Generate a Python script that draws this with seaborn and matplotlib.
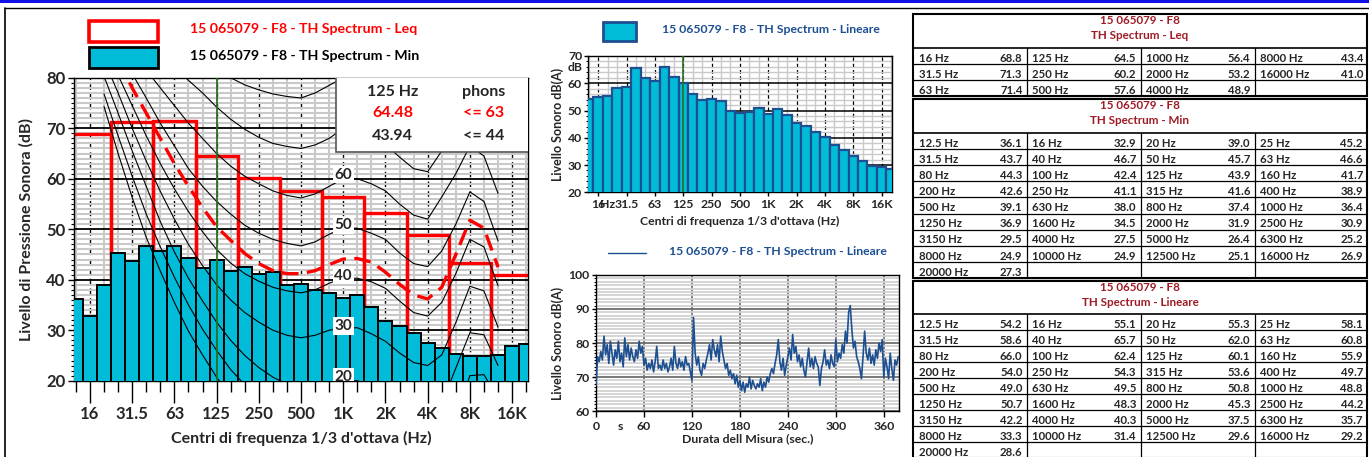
import pandas as pd
import matplotlib
matplotlib.use("Agg")
import matplotlib.pyplot as plt
import seaborn as sns
from matplotlib.patches import Rectangle

# ----------------------------
# 0. stile
# ----------------------------
sns.set_theme(style="white")
plt.rcParams['font.family'] = ['Lato', 'DejaVu Sans']
plt.rcParams['font.weight'] = 'bold'
plt.rcParams['axes.labelweight'] = 'bold'

CYAN = "#00BCD9"
NAVY = "#1D4F91"
DARKRED = "#9E1B25"
GREEN = "#2B6E1F"

# ----------------------------
# 1. dati
# ----------------------------
codice = "15 065079 - F8"
serie_leq = "15 065079 - F8 - TH Spectrum - Leq"
serie_min = "15 065079 - F8 - TH Spectrum - Min"
serie_lin = "15 065079 - F8 - TH Spectrum - Lineare"

# bande 1/3 d'ottava (12.5 Hz -> 20 kHz)
terzi_hz = ["12.5", "16", "20", "25", "31.5", "40", "50", "63", "80", "100",
            "125", "160", "200", "250", "315", "400", "500", "630", "800", "1000",
            "1250", "1600", "2000", "2500", "3150", "4000", "5000", "6300", "8000",
            "10000", "12500", "16000", "20000"]
spl_min = [36.1, 32.9, 39.0, 45.2, 43.7, 46.7, 45.7, 46.6, 44.3, 42.4,
           43.9, 41.7, 42.6, 41.1, 41.6, 38.9, 39.1, 38.0, 37.4, 36.4,
           36.9, 34.5, 31.9, 30.9, 29.5, 27.5, 26.4, 25.2, 24.9, 24.9,
           25.1, 26.9, 27.3]
spl_lin = [54.2, 55.1, 55.3, 58.1, 58.6, 65.7, 62.0, 60.8, 66.0, 62.4,
           60.1, 55.9, 54.0, 54.3, 53.6, 49.7, 49.0, 49.5, 50.8, 48.8,
           50.7, 48.3, 45.3, 44.2, 42.2, 40.3, 37.5, 35.7, 33.3, 31.4,
           29.6, 29.2, 28.6]

# bande d'ottava
ottave_hz = ["16", "31.5", "63", "125", "250", "500", "1000", "2000", "4000", "8000", "16000"]
spl_leq = [68.8, 71.3, 71.4, 64.5, 60.2, 57.6, 56.4, 53.2, 48.9, 43.4, 41.0]
ottave_tick = ["16", "31.5", "63", "125", "250", "500", "1K", "2K", "4K", "8K", "16K"]

# riquadro 125 Hz
sel_freq = "125 Hz"
sel_leq = 64.48
sel_min = 43.94
phon_leq = 63
phon_min = 44

# curve isofoniche, da 20 Hz (banda 2) a 12.5 kHz (banda 30)
iso_banda = list(range(2, 31))
iso_phon = [0, 10, 20, 30, 40, 50, 60, 70, 80]
iso_0 = [74.3, 65.0, 56.3, 48.4, 41.7, 35.5, 29.8, 25.1, 20.7, 16.8,
         13.8, 11.2, 8.9, 7.2, 6.0, 5.0, 4.4, 4.2, 3.7, 2.6,
         1.0, -1.2, -3.6, -3.9, -1.1, 6.6, 15.3, 16.4, 11.6]
iso_10 = [76.8, 68.5, 60.5, 53.0, 46.5, 40.5, 35.0, 30.2, 26.0, 22.2,
          19.2, 16.8, 14.8, 13.2, 12.0, 11.0, 10.3, 10.0, 9.7, 8.8,
          7.2, 5.0, 2.6, 2.3, 5.0, 12.5, 21.0, 21.2, 16.5]
iso_20 = [80.3, 73.0, 65.5, 58.5, 51.5, 45.5, 40.3, 35.8, 31.6, 28.0,
          25.0, 22.6, 20.7, 19.3, 18.0, 18.3, 19.0, 20.0, 20.0, 19.0,
          17.5, 15.3, 13.0, 12.8, 15.5, 22.5, 29.5, 29.1, 23.0]
iso_30 = [83.5, 77.0, 70.0, 63.5, 57.5, 52.0, 47.0, 42.8, 39.0, 36.0,
          33.5, 31.6, 30.0, 29.0, 28.5, 29.0, 30.0, 30.4, 30.5, 29.3,
          27.8, 25.5, 23.6, 23.0, 25.1, 31.5, 38.7, 37.8, 30.6]
iso_40 = [86.5, 80.5, 74.5, 68.5, 63.0, 58.0, 53.5, 49.5, 46.0, 43.3,
          41.2, 39.7, 38.5, 37.8, 37.4, 38.0, 39.3, 40.3, 40.3, 39.6,
          38.3, 35.8, 33.5, 32.8, 35.5, 41.2, 48.0, 46.5, 38.8]
iso_50 = [90.0, 85.0, 80.8, 76.0, 71.0, 66.5, 62.0, 58.5, 55.5, 53.0,
          50.8, 49.2, 48.0, 47.2, 46.7, 47.5, 49.0, 50.3, 50.2, 49.2,
          48.0, 45.3, 43.2, 42.6, 45.7, 51.0, 57.4, 55.5, 47.7]
iso_60 = [93.0, 89.0, 85.0, 81.5, 78.0, 74.5, 71.0, 68.0, 65.0, 62.5,
          60.5, 59.0, 57.6, 56.7, 56.2, 57.0, 58.5, 60.0, 60.0, 59.0,
          57.6, 55.0, 52.8, 52.0, 56.4, 61.0, 66.5, 64.5, 57.1]
iso_70 = [97.0, 93.5, 90.0, 87.0, 84.5, 82.0, 79.5, 77.0, 74.2, 71.8,
          69.8, 68.2, 67.0, 66.4, 66.0, 66.7, 68.0, 70.0, 70.0, 68.7,
          66.8, 64.3, 62.0, 61.4, 65.5, 70.5, 76.0, 74.0, 66.5]
iso_80 = [101.0, 98.0, 95.5, 93.0, 90.5, 88.5, 86.0, 84.0, 82.0, 80.0,
          78.6, 77.6, 76.8, 76.3, 76.0, 77.0, 78.5, 80.0, 80.2, 78.8,
          77.0, 74.5, 72.0, 71.4, 75.0, 80.0, 85.5, 83.5, 76.0]

# curva tratteggiata rossa (bande 3..30)
curva_banda = list(range(3, 31))
curva_rossa = [83.5, 78.0, 73.0, 68.0, 63.0, 58.5, 54.3, 50.5, 47.8, 45.2,
               43.2, 41.8, 41.2, 41.2, 41.8, 43.0, 44.1, 44.2, 43.5, 41.5,
               39.1, 37.0, 36.2, 38.5, 45.0, 51.8, 50.2, 42.5]

# andamento nel tempo, un valore ogni 2 s
t_sec = list(range(0, 380, 2))
laeq_t = [67.5, 76.0, 74.5, 77.5, 75.0, 82.0, 76.5, 79.5, 74.0, 80.5,
          77.0, 73.5, 78.0, 75.5, 80.5, 74.5, 77.0, 73.0, 81.5, 76.0,
          79.5, 75.0, 78.5, 76.0, 74.5, 78.0, 75.5, 80.5, 77.0, 79.0,
          73.5, 75.5, 72.0, 74.0, 72.5, 75.0, 71.5, 74.5, 79.0, 72.5,
          73.5, 72.0, 75.0, 72.5, 74.0, 71.5, 73.0, 75.5, 72.0, 79.0,
          74.0, 72.5, 75.5, 73.0, 74.5, 72.0, 76.0, 73.5, 74.0, 71.5,
          69.0, 87.5, 77.0, 73.5, 76.0, 72.0, 70.5, 74.0, 72.5, 75.0,
          77.0, 79.5, 75.0, 81.0, 78.0, 76.0, 79.5, 74.5, 82.0, 77.5,
          75.0, 72.5, 74.0, 70.5, 72.0, 69.5, 71.0, 68.0, 70.5, 67.0,
          69.0, 66.0, 68.5, 65.5, 68.0, 67.0, 70.0, 66.5, 69.0, 67.5,
          66.5, 68.0, 67.0, 69.5, 66.0, 68.5, 67.0, 70.0, 68.5, 71.0,
          72.5, 71.0, 74.0, 76.5, 81.0, 74.5, 72.0, 75.5, 70.5, 73.5,
          76.0, 78.5, 75.0, 82.5, 77.0, 79.0, 74.5, 76.5, 73.0, 75.5,
          72.0, 70.0, 74.5, 78.5, 73.0, 75.5, 72.5, 76.0, 74.0, 73.0,
          67.5, 72.5, 74.5, 78.0, 73.5, 75.0, 72.5, 76.5, 74.0, 73.0,
          81.0, 74.5, 77.0, 75.5, 79.5, 77.0, 83.5, 80.0, 89.0, 91.0,
          84.0, 78.5, 80.5, 76.0, 74.5, 72.5, 69.5, 76.0, 83.5, 77.0,
          75.0, 78.5, 74.0, 76.5, 73.5, 78.0, 75.5, 80.0, 77.5, 81.0,
          70.0, 75.5, 73.0, 69.5, 77.0, 72.5, 69.0, 75.0, 73.5, 76.0]
tempo_tick = [0, 60, 120, 180, 240, 300, 360]

# ----------------------------
# 2. tabelle per seaborn
# ----------------------------
banda = list(range(len(terzi_hz)))
banda_ott = [1 + 3 * k for k in range(len(ottave_hz))]
df_min = pd.DataFrame({"banda": banda, "spl": spl_min})
df_lin = pd.DataFrame({"banda": banda, "spl": spl_lin})
df_leq = pd.DataFrame({"banda": banda_ott, "spl": spl_leq})
righe = []
for p, valori in zip(iso_phon, [iso_0, iso_10, iso_20, iso_30, iso_40, iso_50, iso_60, iso_70, iso_80]):
    for b, v in zip(iso_banda, valori):
        righe.append((p, b, v))
df_iso = pd.DataFrame(righe, columns=["phon", "banda", "spl"])
df_t = pd.DataFrame({"t": t_sec, "spl": laeq_t})

# ----------------------------
# 3. figura e assi (coordinate in pixel)
# ----------------------------
W, H = 1369, 457
fig = plt.figure(figsize=(W / 100, H / 100), dpi=100)


def box(x0, y0, x1, y1):
    return [x0 / W, 1 - y1 / H, (x1 - x0) / W, (y1 - y0) / H]


ax_bg = fig.add_axes([0, 0, 1, 1])
ax_bg.set_xlim(0, W)
ax_bg.set_ylim(H, 0)
ax_bg.axis('off')

ax1 = fig.add_axes(box(74, 77.8, 528, 380.7))
ax2 = fig.add_axes(box(588.3, 56, 891.7, 192.3))
ax3 = fig.add_axes(box(596, 275, 899, 411))

ax_tab = fig.add_axes([0, 0, 1, 1])
ax_tab.set_xlim(0, W)
ax_tab.set_ylim(H, 0)
ax_tab.axis('off')
ax_tab.patch.set_visible(False)

# cornice
ax_bg.add_patch(Rectangle((0, 0), W, 2.6, color="#1010E8", lw=0))
ax_bg.plot([5, W], [8, 8], color='black', lw=1)
ax_bg.plot([5, 5], [8, H], color='black', lw=1.2)

# ----------------------------
# 4. grafico spettro Leq / Min
# ----------------------------
sns.barplot(data=df_leq, x="banda", y="spl", native_scale=True, width=1, fill=False,
            color="red", linewidth=2.4, errorbar=None, ax=ax1, zorder=2)
sns.barplot(data=df_min, x="banda", y="spl", native_scale=True, width=1, color=CYAN,
            saturation=1, edgecolor="black", linewidth=1.4, errorbar=None, ax=ax1, zorder=3)
sns.lineplot(data=df_iso, x="banda", y="spl", units="phon", estimator=None, sort=False,
             color="black", lw=0.8, ax=ax1, zorder=4, legend=False)
sns.lineplot(x=curva_banda, y=curva_rossa, color="red", lw=2.4, linestyle=(0, (5, 2.5)),
             ax=ax1, zorder=5)
ax1.axvline(banda_ott[3] - 0, color=GREEN, lw=1.3, zorder=6)

ax1.set_xlim(-0.135, 32.13)
ax1.set_ylim(20, 80)
ax1.set_xticks(banda_ott)
ax1.set_xticklabels(ottave_tick)
ax1.set_xticks(banda, minor=True)
ax1.set_yticks(range(20, 81, 10))
ax1.set_yticks(range(20, 81, 1), minor=True)
ax1.tick_params(axis='x', which='major', length=16, width=1, pad=2, labelsize=12,
                bottom=True, color='black')
ax1.tick_params(axis='x', which='minor', length=8, width=1, bottom=True, color='black')
ax1.tick_params(axis='y', which='major', length=4, width=1, pad=2, labelsize=12,
                left=True, color='black')
ax1.tick_params(axis='y', which='minor', length=2.5, width=0.8, left=True, color='black')
ax1.set_axisbelow(True)
ax1.grid(True, which='minor', axis='both', color='#C9C9C9', lw=1.5)
ax1.grid(True, which='major', axis='y', color='black', lw=1.3)
ax1.grid(True, which='major', axis='x', color='black', lw=1.0, linestyle=(0, (4, 3)))
for s in ax1.spines.values():
    s.set_color('black')
    s.set_linewidth(1)
ax1.set_xlabel("Centri di frequenza 1/3 d'ottava (Hz)", fontsize=11.5, labelpad=7)
ax1.set_ylabel("Livello di Pressione Sonora (dB)", fontsize=11.5, labelpad=9)

# riquadro 125 Hz
ax1.add_patch(Rectangle((18.49, 65.3), 14.5, 20, facecolor='white', edgecolor='#555555',
                        lw=1.2, zorder=7))
ax1.text(22.5, 77.1, sel_freq, fontsize=11.5, ha='center', va='center', zorder=8)
ax1.text(29.0, 77.1, "phons", fontsize=11.5, ha='center', va='center', zorder=8)
ax1.text(22.5, 73.0, f"{sel_leq:.2f}", fontsize=11.5, color='red', ha='center', va='center', zorder=8)
ax1.text(29.0, 73.0, f"<= {phon_leq}", fontsize=11.5, color='red', ha='center', va='center', zorder=8)
ax1.text(22.5, 68.4, f"{sel_min:.2f}", fontsize=11.5, ha='center', va='center', zorder=8)
ax1.text(29.0, 68.4, f"<= {phon_min}", fontsize=11.5, ha='center', va='center', zorder=8)

# etichette delle isofoniche a 1 kHz
for p in iso_phon[2:7]:
    ax1.text(19, p + 0.8, str(p), fontsize=11, ha='center', va='center', zorder=8,
             bbox=dict(facecolor='white', edgecolor='none', pad=1.2), clip_on=True)

# legenda
ax_bg.add_patch(Rectangle((89, 20.5), 69, 21.5, facecolor='white', edgecolor='red', lw=2.6))
ax_bg.add_patch(Rectangle((89, 47), 69, 21, facecolor=CYAN, edgecolor='black', lw=2))
ax_bg.text(190, 29, serie_leq, color='red', fontsize=10.2, va='center', ha='left')
ax_bg.text(190, 56, serie_min, color='black', fontsize=10.2, va='center', ha='left')

# ----------------------------
# 5. grafico lineare (in alto al centro)
# ----------------------------
sns.barplot(data=df_lin, x="banda", y="spl", native_scale=True, width=1, color=CYAN,
            saturation=1, edgecolor=NAVY, linewidth=1.6, errorbar=None, ax=ax2, zorder=3)
ax2.axvline(10, color=GREEN, lw=1.2, zorder=5)
ax2.set_xlim(-0.05, 32.07)
ax2.set_ylim(20, 70)
ax2.set_xticks(banda_ott)
ax2.set_xticklabels(ottave_tick)
ax2.set_xticks(banda, minor=True)
ax2.set_yticks(range(20, 71, 10))
ax2.set_yticks(range(20, 71, 2), minor=True)
ax2.tick_params(axis='x', which='major', length=3, width=1, pad=2, labelsize=8.8,
                bottom=True, color='black')
ax2.tick_params(axis='x', which='minor', length=0)
ax2.tick_params(axis='y', which='major', length=3, width=1, pad=1.5, labelsize=8.8,
                left=True, color='black')
ax2.tick_params(axis='y', which='minor', length=1.5, width=0.7, left=True, color='black')
ax2.set_axisbelow(True)
ax2.grid(True, which='minor', axis='both', color='#C9C9C9', lw=1.0)
ax2.grid(True, which='major', axis='y', color='black', lw=1.1)
ax2.grid(True, which='major', axis='x', color='black', lw=0.9, linestyle=(0, (3, 2)))
for s in ax2.spines.values():
    s.set_color('black')
    s.set_linewidth(1)
ax2.set_xlabel("Centri di frequenza 1/3 d'ottava (Hz)", fontsize=8.8, labelpad=4)
ax2.set_ylabel("Livello Sonoro dB(A)", fontsize=9, labelpad=3)
ax2.annotate("Hz", xy=(2.0, 0), xycoords=('data', 'axes fraction'), xytext=(0, -5),
             textcoords='offset points', ha='center', va='top', fontsize=8.8)
ax2.annotate("dB", xy=(0, 1), xycoords='axes fraction', xytext=(-4, -8),
             textcoords='offset points', ha='right', va='center', fontsize=8.8)

ax_bg.add_patch(Rectangle((603, 22), 33, 19, facecolor=CYAN, edgecolor=NAVY, lw=2))
ax_bg.text(662, 29.5, serie_lin, color=NAVY, fontsize=8.8, va='center', ha='left')

# ----------------------------
# 6. andamento nel tempo
# ----------------------------
sns.lineplot(data=df_t, x="t", y="spl", color=NAVY, lw=1.2, ax=ax3, zorder=3)
ax3.set_xlim(0, 379)
ax3.set_ylim(60, 100)
ax3.set_xticks(tempo_tick)
ax3.set_yticks(range(60, 101, 10))
ax3.set_yticks(range(60, 101, 1), minor=True)
ax3.tick_params(axis='x', which='major', length=4, width=1, pad=3, labelsize=8.8,
                bottom=True, color='black')
ax3.tick_params(axis='y', which='major', length=3, width=1, pad=1.5, labelsize=8.8,
                left=True, color='black')
ax3.tick_params(axis='y', which='minor', length=1.5, width=0.7, left=True, color='black')
ax3.set_axisbelow(True)
ax3.grid(True, which='minor', axis='y', color='#D2D2D2', lw=1.3)
ax3.grid(True, which='major', axis='y', color='#6E6E6E', lw=1.3)
ax3.grid(True, which='major', axis='x', color='#7A7A7A', lw=1.3)
for s in ax3.spines.values():
    s.set_color('black')
    s.set_linewidth(1)
ax3.set_xlabel("Durata dell Misura (sec.)", fontsize=8.8, labelpad=1)
ax3.set_ylabel("Livello Sonoro dB(A)", fontsize=9, labelpad=3)
ax3.annotate("s", xy=(30, 0), xycoords=('data', 'axes fraction'), xytext=(0, -7),
             textcoords='offset points', ha='center', va='top', fontsize=8.8)

ax_bg.plot([608, 646], [253, 253], color=NAVY, lw=1)
ax_bg.text(669, 251.5, serie_lin, color=NAVY, fontsize=8.8, va='center', ha='left')

# ----------------------------
# 7. tabelle numeriche a destra
# ----------------------------
COLS = [913, 1026.5, 1140.5, 1254.5, 1367]


def tabella(ax, top, head_h, n_righe, row_h, titolo, celle, off=10.3):
    x0, x1 = COLS[0], COLS[-1]
    bottom = top + head_h + n_righe * row_h
    ax.add_patch(Rectangle((x0, top), x1 - x0, bottom - top, facecolor='white',
                           edgecolor='black', lw=1.5, zorder=1))
    ax.plot([x0, x1], [top + head_h] * 2, color='black', lw=1.2, zorder=2)
    ax.text((x0 + x1) / 2, top + 6.5, codice, color=DARKRED, fontsize=8.4,
            ha='center', va='center', zorder=3)
    ax.text((x0 + x1) / 2, top + 21.5, titolo, color=DARKRED, fontsize=8.4,
            ha='center', va='center', zorder=3)
    for r in range(n_righe):
        yb = top + head_h + (r + 1) * row_h
        ax.plot([x0, x1], [yb, yb], color='black', lw=0.9, zorder=2)
    for c in COLS[1:-1]:
        ax.plot([c, c], [top + head_h, bottom], color='black', lw=0.9, zorder=2)
    for r, c, lab, val in celle:
        y = top + head_h + r * row_h + off
        ax.text(COLS[c] + 6, y, lab, fontsize=8.2, ha='left', va='center', zorder=3)
        ax.text(COLS[c + 1] - 4, y, f"{val:.1f}", fontsize=8.2, ha='right', va='center', zorder=3)


celle_leq = [(k % 3, k // 3, f"{f} Hz", v) for k, (f, v) in enumerate(zip(ottave_hz, spl_leq))]
celle_min = [(k // 4, k % 4, f"{f} Hz", v) for k, (f, v) in enumerate(zip(terzi_hz, spl_min))]
celle_lin = [(k // 4, k % 4, f"{f} Hz", v) for k, (f, v) in enumerate(zip(terzi_hz, spl_lin))]

tabella(ax_tab, 14, 34, 3, 16, "TH Spectrum - Leq", celle_leq)
tabella(ax_tab, 99, 34, 9, 16.1, "TH Spectrum - Min", celle_min)
tabella(ax_tab, 281, 33, 9, 16, "TH Spectrum - Lineare", celle_lin, off=10.5)

fig.savefig("out.png", dpi=100)
